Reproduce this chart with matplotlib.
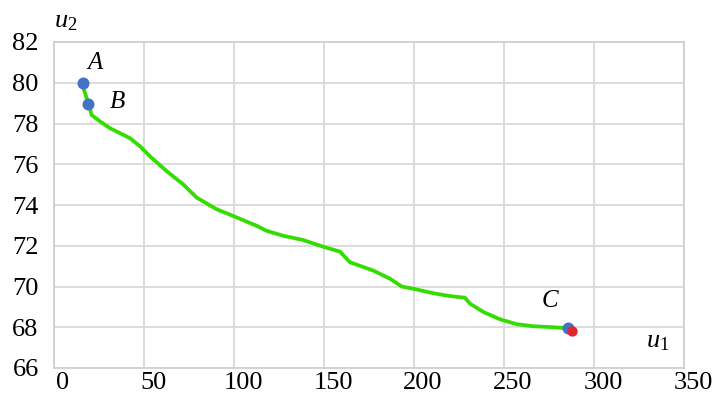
import matplotlib
matplotlib.use("Agg")
import matplotlib.pyplot as plt
import matplotlib.transforms as mtransforms

# Curve data (u1, u2)
u1 = [15.7, 18.2, 19.4, 20.9, 25.6, 31.1, 42.2, 47.8, 53.3, 62.6, 71.8, 79.3, 90.4, 99.6,
      112.6, 118.2, 127.4, 138.5, 149.6, 158.9, 164.4, 177.4, 186.7, 193.2, 199.6, 210.7,
      220.0, 228.3, 231.1, 238.5, 247.8, 257.1, 266.3, 275.6, 285.5]
u2 = [79.92, 79.23, 78.91, 78.42, 78.10, 77.77, 77.28, 76.88, 76.39, 75.66, 75.01, 74.36,
      73.79, 73.46, 72.98, 72.73, 72.49, 72.28, 71.95, 71.71, 71.19, 70.78, 70.38, 70.00,
      69.89, 69.67, 69.53, 69.45, 69.16, 68.75, 68.39, 68.15, 68.05, 68.01, 67.95]

# Labelled points
pt_names = ["A", "B", "C"]
pt_u1 = [16.1, 18.9, 285.5]
pt_u2 = [80.0, 78.98, 67.95]
red_u1 = [287.6]
red_u2 = [67.83]

xticks = [0, 50, 100, 150, 200, 250, 300, 350]
yticks = [66, 68, 70, 72, 74, 76, 78, 80, 82]

plt.rcParams["font.family"] = ["Liberation Serif", "DejaVu Serif"]
plt.rcParams["mathtext.fontset"] = "custom"
plt.rcParams["mathtext.rm"] = "Liberation Serif"
plt.rcParams["mathtext.it"] = "Liberation Serif:italic"

fig = plt.figure(figsize=(7.13, 3.96), dpi=100)
ax = fig.add_axes([54 / 713, 1 - 368 / 396, 630 / 713, 326 / 396])

ax.set_xlim(0, 350)
ax.set_ylim(66, 82)
ax.set_xticks(xticks)
ax.set_yticks(yticks)
ax.set_xticklabels([str(t) for t in xticks], fontsize=19)
ax.set_yticklabels([str(t) for t in yticks], fontsize=19)
ax.tick_params(axis="both", length=0)
ax.tick_params(axis="y", pad=11)
ax.tick_params(axis="x", pad=3)
shift = mtransforms.ScaledTranslation(9 / 100, 0, fig.dpi_scale_trans)
for lab in ax.get_xticklabels():
    lab.set_transform(lab.get_transform() + shift)
ax.grid(True, color="#d9d9d9", linewidth=1.3)
ax.set_axisbelow(True)
for s in ax.spines.values():
    s.set_color("#d0d0d0")
    s.set_linewidth(1.3)

ax.plot(u1, u2, color="#33dd00", linewidth=2.7, solid_capstyle="round",
        solid_joinstyle="round", zorder=3)
ax.scatter(pt_u1, pt_u2, s=75, color="#4472c4", zorder=4, linewidths=0)
ax.scatter(red_u1, red_u2, s=55, color="#e8202a", zorder=5, linewidths=0)

offsets = [(12, 20), (29, 2), (-18, 27)]
for name, x, y, off in zip(pt_names, pt_u1, pt_u2, offsets):
    ax.annotate(name, (x, y), xytext=off, textcoords="offset pixels",
                ha="center", va="center", fontsize=18, style="italic")

ax.text(0.019, 1.062, r"$u_2$", transform=ax.transAxes, ha="center", va="center", fontsize=19)
ax.text(0.959, 0.08, r"$u_1$", transform=ax.transAxes, ha="center", va="center", fontsize=19)

fig.savefig("out.png", dpi=100)
